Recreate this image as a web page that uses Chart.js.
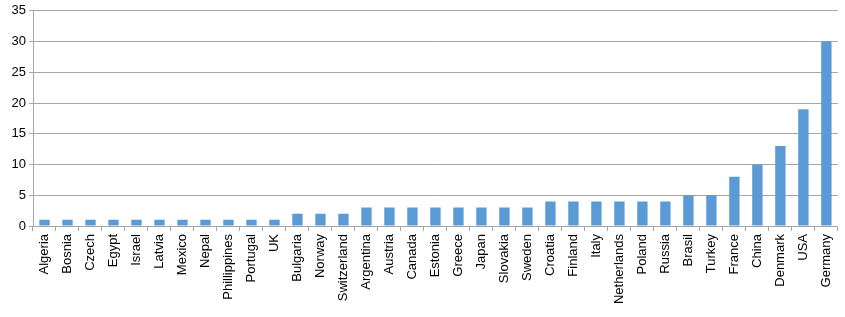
<!DOCTYPE html>
<html>
<head>
<meta charset="utf-8">
<script src="https://cdn.jsdelivr.net/npm/chart.js@4/dist/chart.umd.min.js"></script>
<style>
  html, body { margin: 0; padding: 0; background: #fff; }
  #wrap { width: 845px; height: 317px; position: relative; }
</style>
</head>
<body>
<div id="wrap"><canvas id="countryChart"></canvas></div>
<script>
const countries = ['Algeria', 'Bosnia', 'Czech', 'Egypt', 'Israel', 'Latvia', 'Mexico', 'Nepal',
    'Phillippines', 'Portugal', 'UK', 'Bulgaria', 'Norway', 'Switzerland', 'Argentina', 'Austria',
    'Canada', 'Estonia', 'Greece', 'Japan', 'Slovakia', 'Sweden', 'Croatia', 'Finland', 'Italy',
    'Netherlands', 'Poland', 'Russia', 'Brasil', 'Turkey', 'France', 'China', 'Denmark', 'USA', 'Germany'];
const counts = [1, 1, 1, 1, 1, 1, 1, 1, 1, 1, 1, 2, 2, 2, 3, 3, 3, 3, 3, 3, 3, 3, 4, 4, 4, 4, 4, 4,
    5, 5, 8, 10, 13, 19, 30];
const yTicks = [0, 5, 10, 15, 20, 25, 30, 35];

const ctx = document.getElementById('countryChart').getContext('2d');
new Chart(ctx, {
    type: 'bar',
    data: {
        labels: countries,
        datasets: [{
            data: counts,
            backgroundColor: '#5b9bd5',
            barPercentage: 0.45,
            categoryPercentage: 1.0
        }]
    },
    options: {
        responsive: true,
        maintainAspectRatio: false,
        animation: false,
        layout: { padding: { top: 10, right: 2, left: 0, bottom: 0 } },
        plugins: {
            legend: { display: false },
            tooltip: { enabled: false }
        },
        scales: {
            x: {
                offset: true,
                grid: {
                    offset: true,
                    drawOnChartArea: false,
                    tickLength: 5,
                    color: '#a6a6a6'
                },
                border: { color: '#a6a6a6' },
                ticks: {
                    autoSkip: false,
                    maxRotation: 90,
                    minRotation: 90,
                    color: '#000',
                    padding: 3,
                    font: { family: 'Liberation Sans', size: 13 }
                },
                afterFit: function(axis) { axis.height = 91; }
            },
            y: {
                min: 0,
                max: 35,
                afterBuildTicks: function(axis) {
                    axis.ticks = yTicks.map(v => ({ value: v }));
                },
                grid: {
                    color: '#a6a6a6',
                    tickLength: 4
                },
                border: { color: '#a6a6a6' },
                ticks: {
                    color: '#000',
                    padding: 3,
                    font: { family: 'Liberation Sans', size: 13 }
                },
                afterFit: function(axis) { axis.width = 33; }
            }
        }
    }
});
</script>
</body>
</html>
